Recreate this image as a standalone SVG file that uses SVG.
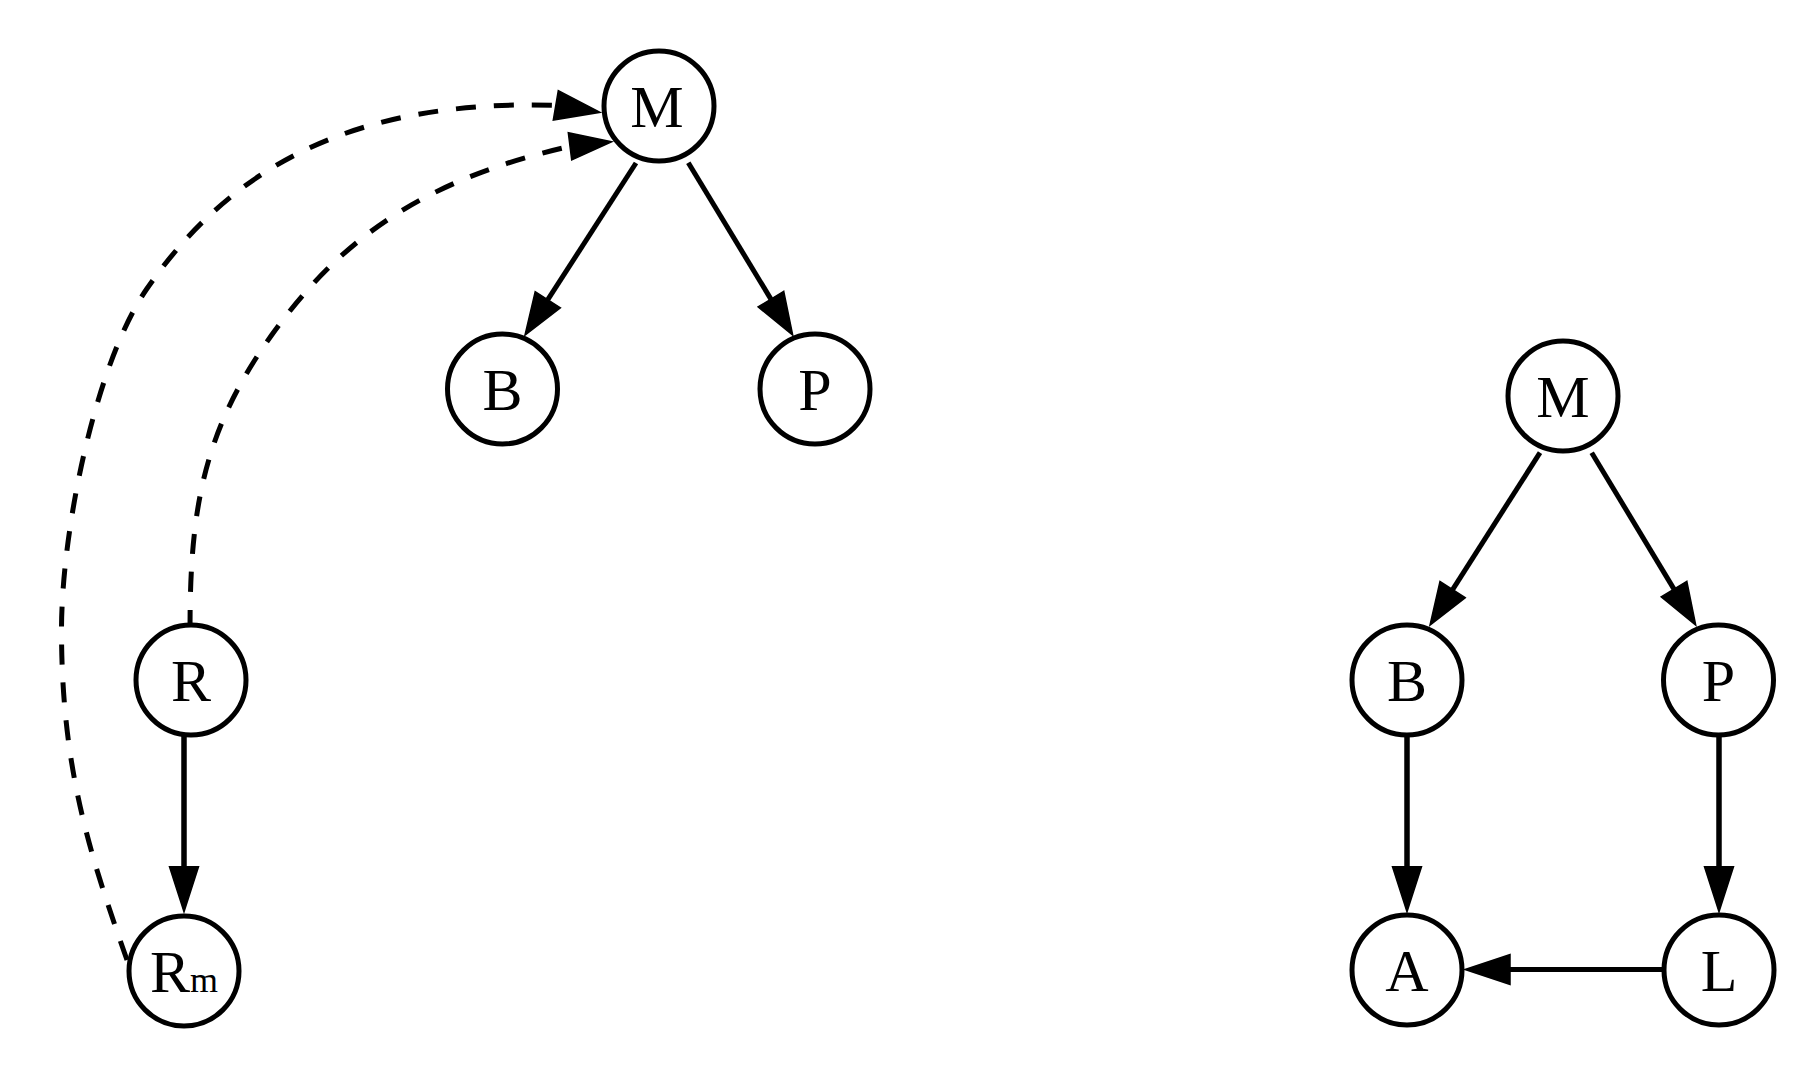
<svg xmlns="http://www.w3.org/2000/svg" width="1811" height="1073" viewBox="0 0 1811 1073">
<style>
.node circle{fill:#fff;stroke:#000;stroke-width:5}
.node text{font-family:"Liberation Serif","Times New Roman",serif;font-size:60px;fill:#000;text-anchor:middle}
.edge line,.edge path{stroke:#000;stroke-width:5;fill:none}
.edge .v{stroke-width:5.5}
.edge .dash{stroke-dasharray:20 18;stroke-width:5}
.edge polygon{fill:#000;stroke:#000;stroke-width:1.5;stroke-linejoin:miter}
</style>
<rect width="1811" height="1073" fill="#fff"/>
<g id="connectors" class="edge">
  <!-- left graph -->
  <path class="dash" d="M127,960 C90.7,856.6 61.5,770 61.5,630 C61.5,530 95.7,363.2 146.7,289 C231.8,165.4 355.8,99.3 555.8,105.3"/>
  <polygon points="558.3,90.7 553.3,120 600,112.3"/>
  <path class="dash" d="M190,630 C190,512 202.1,432.2 271.7,335 C341.3,237.8 424.5,179.3 570,146.3"/>
  <polygon points="568.3,132.7 571.7,160 611.7,141.7"/>
  <line x1="636" y1="163" x2="547.8" y2="299.7"/>
  <polygon points="560.4,307.8 535.2,291.6 525,335"/>
  <line x1="688.3" y1="162.7" x2="770.9" y2="299.1"/>
  <polygon points="783.7,291.3 758.1,306.9 792.7,335"/>
  <line class="v" x1="184" y1="736" x2="184" y2="867"/>
  <polygon points="169.5,866.7 198.5,866.7 184,911.7"/>
  <!-- right graph -->
  <line x1="1540" y1="452.7" x2="1452.6" y2="589.6"/>
  <polygon points="1465.2,597.7 1440,581.5 1430,625"/>
  <line x1="1591.7" y1="452.7" x2="1674" y2="589.1"/>
  <polygon points="1686.8,581.3 1661.2,596.9 1695.7,625"/>
  <line class="v" x1="1407" y1="736" x2="1407" y2="867"/>
  <polygon points="1392.5,866.7 1421.5,866.7 1407,911.7"/>
  <line class="v" x1="1719" y1="736" x2="1719" y2="867"/>
  <polygon points="1704.5,866.7 1733.5,866.7 1719,911.7"/>
  <line x1="1669" y1="969.5" x2="1510" y2="969.5"/>
  <polygon points="1510,954.5 1510,984.5 1465,969.5"/>
</g>
<g id="node-M1" class="node"><circle cx="659" cy="106" r="55"/><text x="657" y="127">M</text></g>
<g id="node-B1" class="node"><circle cx="502.5" cy="389" r="55"/><text x="502.5" y="410">B</text></g>
<g id="node-P1" class="node"><circle cx="815" cy="389" r="55"/><text x="815" y="410">P</text></g>
<g id="node-R" class="node"><circle cx="191" cy="680" r="55"/><text x="191" y="701">R</text></g>
<g id="node-Rm" class="node"><circle cx="184" cy="971" r="55"/><text x="184" y="992">R<tspan font-size="36">m</tspan></text></g>
<g id="node-M2" class="node"><circle cx="1563" cy="396" r="55"/><text x="1563" y="417">M</text></g>
<g id="node-B2" class="node"><circle cx="1407" cy="680" r="55"/><text x="1407" y="701">B</text></g>
<g id="node-P2" class="node"><circle cx="1718.5" cy="680" r="55"/><text x="1718.5" y="701">P</text></g>
<g id="node-A" class="node"><circle cx="1407" cy="970" r="55"/><text x="1407" y="991">A</text></g>
<g id="node-L" class="node"><circle cx="1719" cy="970" r="55"/><text x="1719" y="991">L</text></g>
</svg>
